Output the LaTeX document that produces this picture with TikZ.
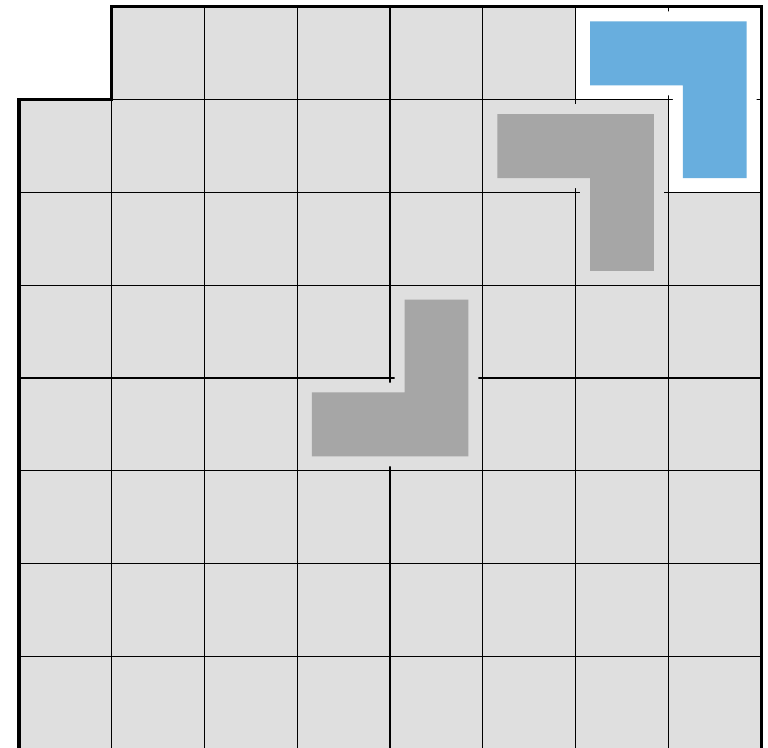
\documentclass[tikz,border=0pt]{standalone}
\definecolor{boardgray}{RGB}{223,223,223}
\definecolor{piecegray}{RGB}{166,166,166}
\definecolor{pieceblue}{RGB}{104,174,222}
\begin{document}
\begin{tikzpicture}[x=92.75pt,y=-92.75pt,
  gridline/.style={line width=1.1pt,black},
  boardborder/.style={line width=3pt,black,line join=miter},
  cover/.style={fill=#1},
  piece/.style={fill=#1}]
\def\sh{0.0485}
\def\ins{0.1563}
\useasboundingbox (-0.20485,-0.07547) rectangle (8.0755,7.9892);
% board
\fill[boardgray] (0,8) -- (0,1) -- (1,1) -- (1,0) -- (8,0) -- (8,8) -- cycle;
\fill[white] (6,0) -- (8,0) -- (8,2) -- (7,2) -- (7,1) -- (6,1) -- cycle;
% grid
\foreach \i in {1,...,7} {
  \draw[gridline] (\i,0) -- (\i,8);
  \draw[gridline] (0,\i) -- (8,\i);
}
% covers hiding inner lines of each piece
\path[cover=white] (6+\sh,\sh) -- (8-\sh,\sh) -- (8-\sh,2-\sh) -- (7+\sh,2-\sh) -- (7+\sh,1-\sh) -- (6+\sh,1-\sh) -- cycle;
\path[cover=boardgray] (5+\sh,1+\sh) -- (7-\sh,1+\sh) -- (7-\sh,3-\sh) -- (6+\sh,3-\sh) -- (6+\sh,2-\sh) -- (5+\sh,2-\sh) -- cycle;
\path[cover=boardgray] (4+\sh,3+\sh) -- (5-\sh,3+\sh) -- (5-\sh,5-\sh) -- (3+\sh,5-\sh) -- (3+\sh,4+\sh) -- (4+\sh,4+\sh) -- cycle;
% pieces
\path[piece=pieceblue] (6+\ins,\ins) -- (8-\ins,\ins) -- (8-\ins,2-\ins) -- (7+\ins,2-\ins) -- (7+\ins,1-\ins) -- (6+\ins,1-\ins) -- cycle;
\path[piece=piecegray] (5+\ins,1+\ins) -- (7-\ins,1+\ins) -- (7-\ins,3-\ins) -- (6+\ins,3-\ins) -- (6+\ins,2-\ins) -- (5+\ins,2-\ins) -- cycle;
\path[piece=piecegray] (4+\ins,3+\ins) -- (5-\ins,3+\ins) -- (5-\ins,5-\ins) -- (3+\ins,5-\ins) -- (3+\ins,4+\ins) -- (4+\ins,4+\ins) -- cycle;
% outer border
\draw[boardborder] (0,8) -- (0,1) -- (1,1) -- (1,0) -- (8,0) -- (8,8) -- cycle;
\end{tikzpicture}
\end{document}
